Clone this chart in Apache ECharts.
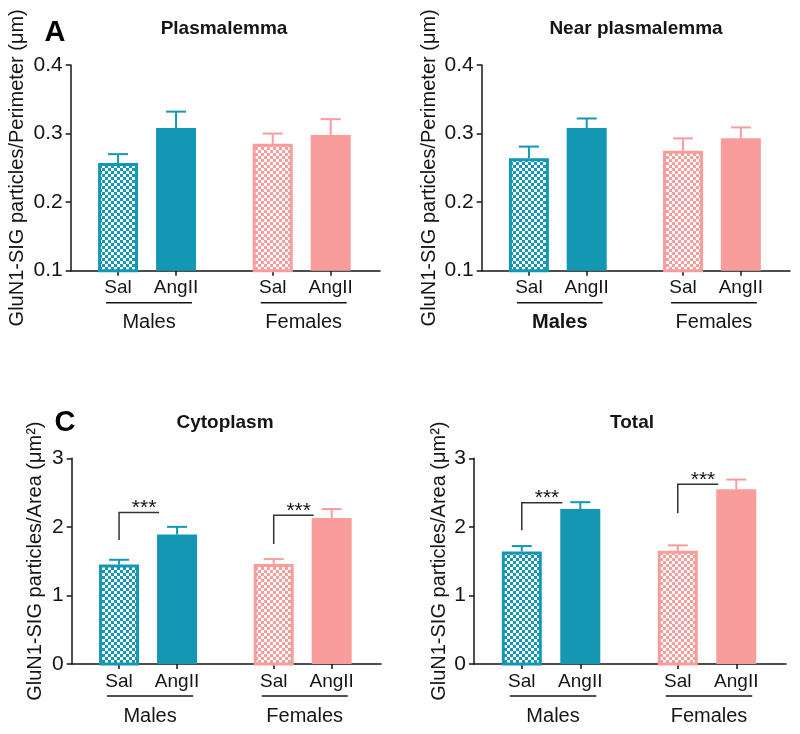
<!DOCTYPE html>
<html><head><meta charset="utf-8">
<script src="https://cdn.jsdelivr.net/npm/echarts@6/dist/echarts.min.js"></script>
<style>html,body{margin:0;padding:0;background:#fff}#c{width:800px;height:734px}</style>
</head><body><div id="c"></div>
<script>
// ---------- data ----------
const groups = ['Males', 'Females'];
const treatments = ['Sal', 'AngII'];
const panelTitles = ['Plasmalemma', 'Near plasmalemma', 'Cytoplasm', 'Total'];
const panelLetters = ['A', '', 'C', ''];
const perimeterTicks = [0.1, 0.2, 0.3, 0.4];
const areaTicks = [0, 1, 2, 3];
// order: Males-Sal, Males-AngII, Females-Sal, Females-AngII
const plasmalemmaMean = [0.257, 0.308, 0.285, 0.298];
const plasmalemmaSem  = [0.013, 0.024, 0.015, 0.023];
const nearMean = [0.264, 0.308, 0.275, 0.293];
const nearSem  = [0.017, 0.014, 0.018, 0.016];
const cytoplasmMean = [1.45, 1.89, 1.46, 2.13];
const cytoplasmSem  = [0.07, 0.11, 0.07, 0.13];
const totalMean = [1.64, 2.26, 1.65, 2.55];
const totalSem  = [0.08, 0.10, 0.08, 0.14];
// significance brackets per group: [low end, high end]
const cytoplasmBrackets = [[1.81, 2.21], [1.75, 2.17]];
const totalBrackets = [[1.95, 2.35], [2.20, 2.62]];
const sigLabel = '***';
const perimeterName = 'GluN1-SIG particles/Perimeter (μm)';
const areaName = 'GluN1-SIG particles/Area (μm²)';

// ---------- style / layout ----------
const TEAL = '#1397B3';
const PINK = '#F99C9C';
const INK = '#151515';
const FONT = '"Liberation Sans", Arial, sans-serif';
const BAR_W = 40;
function pos(g, t) { return 2.45 + g * 8 + t * 3; }
const positions = [pos(0,0), pos(0,1), pos(1,0), pos(1,1)];

function makeChecker(color) {
  const c = document.createElement('canvas');
  c.width = 6; c.height = 6;
  const ctx = c.getContext('2d');
  ctx.fillStyle = '#fff'; ctx.fillRect(0, 0, 6, 6);
  ctx.fillStyle = color; ctx.fillRect(0, 0, 3, 3); ctx.fillRect(3, 3, 3, 3);
  return c;
}
const checkers = { [TEAL]: makeChecker(TEAL), [PINK]: makeChecker(PINK) };

const panels = [
  { mean: plasmalemmaMean, sem: plasmalemmaSem, ticks: perimeterTicks, brackets: null, name: perimeterName, nameGap: 43, dec: 1,
    grid: { left: 70.7, top: 65, width: 309.3, height: 205.7 }, boldGroup: -1,
    title: [224, 29], letter: [55, 33] },
  { mean: nearMean, sem: nearSem, ticks: perimeterTicks, brackets: null, name: perimeterName, nameGap: 42, dec: 1,
    grid: { left: 481.7, top: 65, width: 308.3, height: 205.7 }, boldGroup: 0,
    title: [636, 29], letter: [0, 0] },
  { mean: cytoplasmMean, sem: cytoplasmSem, ticks: areaTicks, brackets: cytoplasmBrackets, name: areaName, nameGap: 26, dec: 0,
    grid: { left: 71.7, top: 458.3, width: 309.3, height: 205.7 }, boldGroup: -1,
    title: [225, 423], letter: [65, 423] },
  { mean: totalMean, sem: totalSem, ticks: areaTicks, brackets: totalBrackets, name: areaName, nameGap: 25, dec: 0,
    grid: { left: 474, top: 458.3, width: 312, height: 205.7 }, boldGroup: -1,
    title: [632, 423], letter: [0, 0] }
];

const axisLine = { show: true, onZero: false, lineStyle: { color: INK, width: 1.5 } };
const option = {
  animation: false,
  backgroundColor: '#fff',
  grid: panels.map(p => Object.assign({ containLabel: false }, p.grid)),
  xAxis: panels.map((p, i) => ({
    type: 'value', gridIndex: i, min: 0, max: 16,
    splitLine: { show: false },
    axisLine: axisLine,
    axisTick: { show: true, customValues: positions, length: 5, lineStyle: { color: INK, width: 1.5 } },
    axisLabel: { show: true, customValues: positions, margin: 8, fontSize: 19, fontFamily: FONT, color: INK,
      formatter: v => { const k = positions.findIndex(q => Math.abs(q - v) < 1e-6); return k < 0 ? '' : treatments[k % 2]; } }
  })),
  yAxis: panels.map((p, i) => ({
    type: 'value', gridIndex: i, min: p.ticks[0], max: p.ticks[p.ticks.length - 1], interval: p.ticks[1] - p.ticks[0],
    splitLine: { show: false },
    axisLine: axisLine,
    axisTick: { show: true, length: 5, lineStyle: { color: INK, width: 1.5 } },
    axisLabel: { margin: 8, fontSize: 21, fontFamily: FONT, color: INK, formatter: v => Number(v).toFixed(p.dec) },
    name: p.name, nameLocation: 'middle', nameGap: p.nameGap,
    nameTextStyle: { fontSize: 20, fontFamily: FONT, color: INK }
  })),
  graphic: panels.flatMap((p, i) => {
    const arr = [{ type: 'text', x: p.title[0], y: p.title[1],
      style: { text: panelTitles[i], font: 'bold 19px ' + FONT, fill: INK, align: 'center', verticalAlign: 'middle' } }];
    if (panelLetters[i]) arr.push({ type: 'text', x: p.letter[0], y: p.letter[1],
      style: { text: panelLetters[i], font: 'bold 29px ' + FONT, fill: '#000', align: 'center', verticalAlign: 'middle' } });
    return arr;
  }),
  series: []
};

panels.forEach((p, i) => {
  const yMin = p.ticks[0];
  // bars + error bars
  option.series.push({
    type: 'custom', xAxisIndex: i, yAxisIndex: i,
    data: p.mean.map((m, k) => [positions[k], m, m + p.sem[k], k]),
    renderItem: (params, api) => {
      const x = api.value(0), m = api.value(1), e = api.value(2), k = api.value(3);
      const base = api.coord([x, yMin]), top = api.coord([x, m]), et = api.coord([x, e]);
      const color = k < 2 ? TEAL : PINK;
      const isSal = k % 2 === 0;
      const cx = base[0];
      const children = [
        { type: 'line', shape: { x1: cx, y1: top[1], x2: cx, y2: et[1] }, style: { stroke: color, lineWidth: 2 } },
        { type: 'line', shape: { x1: cx - 10, y1: et[1], x2: cx + 10, y2: et[1] }, style: { stroke: color, lineWidth: 2 } }
      ];
      if (isSal) {
        children.push({ type: 'rect', shape: { x: cx - BAR_W / 2 + 1.5, y: top[1] + 1.5, width: BAR_W - 3, height: base[1] - top[1] - 1.5 },
          style: { fill: { image: checkers[color], repeat: 'repeat' }, stroke: color, lineWidth: 3 } });
      } else {
        children.push({ type: 'rect', shape: { x: cx - BAR_W / 2, y: top[1], width: BAR_W, height: base[1] - top[1] },
          style: { fill: color } });
      }
      return { type: 'group', children };
    },
    z: 3
  });
  // group labels with underline
  option.series.push({
    type: 'custom', xAxisIndex: i, yAxisIndex: i,
    data: groups.map((g, gi) => [gi]),
    renderItem: (params, api) => {
      const gi = api.value(0);
      const a = api.coord([pos(gi, 0), yMin]), b = api.coord([pos(gi, 1), yMin]);
      const cx = (a[0] + b[0]) / 2 + 2;
      return { type: 'group', children: [
        { type: 'line', shape: { x1: a[0] - 12, y1: a[1] + 32, x2: b[0] + 16, y2: a[1] + 32 }, style: { stroke: INK, lineWidth: 1.5 } },
        { type: 'text', x: cx, y: a[1] + 52, style: { text: groups[gi], fill: INK,
          font: (p.boldGroup === gi ? 'bold ' : '') + '20px ' + FONT, align: 'center', verticalAlign: 'middle' } }
      ] };
    }
  });
  if (p.brackets) {
    option.series.push({
      type: 'custom', xAxisIndex: i, yAxisIndex: i,
      data: p.brackets.map((b, gi) => [gi, b[0], b[1]]),
      renderItem: (params, api) => {
        const gi = api.value(0);
        const lo = api.coord([pos(gi, 0), api.value(1)]);
        const hi = api.coord([pos(gi, 0), api.value(2)]);
        const ang = api.coord([pos(gi, 1), api.value(2)]);
        const xEnd = ang[0] - 18;
        return { type: 'group', children: [
          { type: 'polyline', shape: { points: [[lo[0], lo[1]], [hi[0], hi[1]], [xEnd, hi[1]]] }, style: { stroke: '#333', lineWidth: 1.5, fill: null } },
          { type: 'text', x: (hi[0] + xEnd) / 2 + 5, y: hi[1] + 6, style: { text: sigLabel, fill: INK,
            font: '21px ' + FONT, align: 'center', verticalAlign: 'bottom' } }
        ] };
      }
    });
  }
});

const chart = echarts.init(document.getElementById('c'), null, { renderer: 'canvas' });
chart.setOption(option);
</script>
</body></html>
